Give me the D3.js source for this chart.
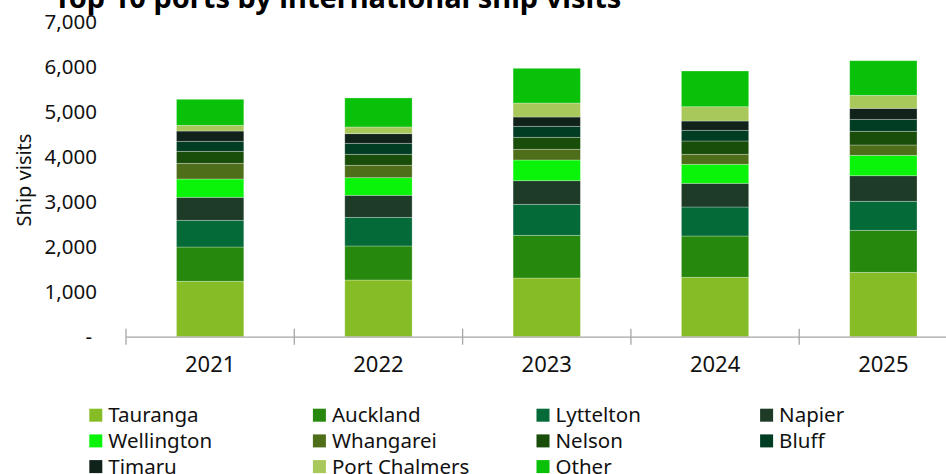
<!DOCTYPE html>
<html>
<head>
<meta charset="utf-8">
<script src="https://cdn.jsdelivr.net/npm/d3@7"></script>
<style>
  html, body { margin: 0; padding: 0; background: #fff; }
  svg { display: block; font-family: "Noto Sans", "Open Sans", sans-serif; }
</style>
</head>
<body>
<svg id="chart" width="946" height="474"></svg>
<script>
// Years on the x axis
const years = ["2021", "2022", "2023", "2024", "2025"];

// Ports, stacked bottom to top
const ports = ["Tauranga", "Auckland", "Lyttelton", "Napier", "Wellington",
               "Whangarei", "Nelson", "Bluff", "Timaru", "Port Chalmers", "Other"];

// International ship visits per port, 2021–2025
const tauranga     = [1233, 1262, 1306, 1322, 1433];
const auckland     = [763, 757, 951, 919, 935];
const lyttelton    = [595, 638, 690, 646, 646];
const napier       = [512, 490, 525, 527, 569];
const wellington   = [407, 392, 461, 423, 454];
const whangarei    = [349, 276, 238, 223, 230];
const nelson       = [267, 245, 267, 296, 305];
const bluff        = [223, 245, 245, 238, 267];
const timaru       = [229, 214, 207, 207, 244];
const portChalmers = [127, 149, 311, 318, 290];
const other        = [579, 646, 773, 795, 770];

// Y axis tick values
const yTicks = [0, 1000, 2000, 3000, 4000, 5000, 6000, 7000];

const seriesValues = [tauranga, auckland, lyttelton, napier, wellington,
                      whangarei, nelson, bluff, timaru, portChalmers, other];

const colors = ["#86BC25", "#26890D", "#046A38", "#1D3B27", "#0AF40A",
                "#4F6E19", "#184D0A", "#013D22", "#10221A", "#A9C85B", "#08C108"];

// Row-per-year table for d3.stack
const table = years.map((yr, i) => {
  const row = { year: yr };
  ports.forEach((p, k) => { row[p] = seriesValues[k][i]; });
  return row;
});

const svg = d3.select("#chart");

const x = d3.scaleBand()
  .domain(years)
  .range([126, 967.5])
  .paddingInner(0.6)
  .paddingOuter(0.3);

const y = d3.scaleLinear()
  .domain([0, 7000])
  .range([336.7, 22.2]);

const color = d3.scaleOrdinal().domain(ports).range(colors);

const stacked = d3.stack().keys(ports)(table);

// Title
svg.append("text")
  .attr("x", 54)
  .attr("y", 8)
  .attr("font-size", 29)
  .attr("font-weight", "bold")
  .attr("fill", "#000")
  .text("Top 10 ports by international ship visits");

// Stacked bars
svg.append("g")
  .selectAll("g")
  .data(stacked)
  .join("g")
    .attr("fill", d => color(d.key))
  .selectAll("rect")
  .data(d => d)
  .join("rect")
    .attr("x", d => x(d.data.year))
    .attr("width", x.bandwidth())
    .attr("y", d => y(d[1]))
    .attr("height", d => y(d[0]) - y(d[1]))
    .attr("stroke", "rgba(255,255,255,0.35)")
    .attr("stroke-width", 0.8);

// X axis with year labels
const xAxis = svg.append("g")
  .attr("transform", `translate(0,${y(0)})`)
  .call(d3.axisBottom(x).tickSize(0).tickSizeOuter(0).tickPadding(19.4));
xAxis.select(".domain").attr("stroke", "#A6A6A6").attr("stroke-width", 1.3);
xAxis.selectAll("text")
  .attr("font-size", 22)
  .attr("font-family", "Noto Sans")
  .attr("fill", "#111");

// Category separators on the x axis
const boundaries = years.map(yr => x(yr) - x.step() * x.paddingInner() / 2)
  .map((b, i) => i === 0 ? x.range()[0] : b);
svg.append("g")
  .selectAll("line")
  .data(boundaries)
  .join("line")
    .attr("x1", d => d).attr("x2", d => d)
    .attr("y1", y(0) - 8).attr("y2", y(0) + 8)
    .attr("stroke", "#A6A6A6")
    .attr("stroke-width", 1.3);

// Y axis labels
const yAxis = svg.append("g")
  .attr("transform", "translate(97,0)")
  .call(d3.axisLeft(y)
    .tickValues(yTicks)
    .tickSize(0)
    .tickPadding(0)
    .tickFormat(d => d === 0 ? "-" : d3.format(",")(d)));
yAxis.select(".domain").remove();
yAxis.selectAll("text")
  .attr("font-size", 20.5)
  .attr("font-family", "Noto Sans")
  .attr("fill", "#111")
  .attr("dx", d => d === 0 ? -5 : 0);

// Y axis title
svg.append("text")
  .attr("transform", "translate(24,180) rotate(-90)")
  .attr("text-anchor", "middle")
  .attr("dy", "0.35em")
  .attr("font-size", 20)
  .attr("fill", "#111")
  .text("Ship visits");

// Legend: four columns, row-major order
const legendCols = 4;
const legend = svg.append("g")
  .selectAll("g")
  .data(ports)
  .join("g")
    .attr("transform", (d, i) =>
      `translate(${89.3 + (i % legendCols) * 223.6},${408.7 + Math.floor(i / legendCols) * 25.7})`);
legend.append("rect")
  .attr("width", 13)
  .attr("height", 13)
  .attr("fill", d => color(d));
legend.append("text")
  .attr("x", 19)
  .attr("y", 6.5)
  .attr("dy", "0.35em")
  .attr("font-size", 20.5)
  .attr("fill", "#111")
  .text(d => d);
</script>
</body>
</html>
